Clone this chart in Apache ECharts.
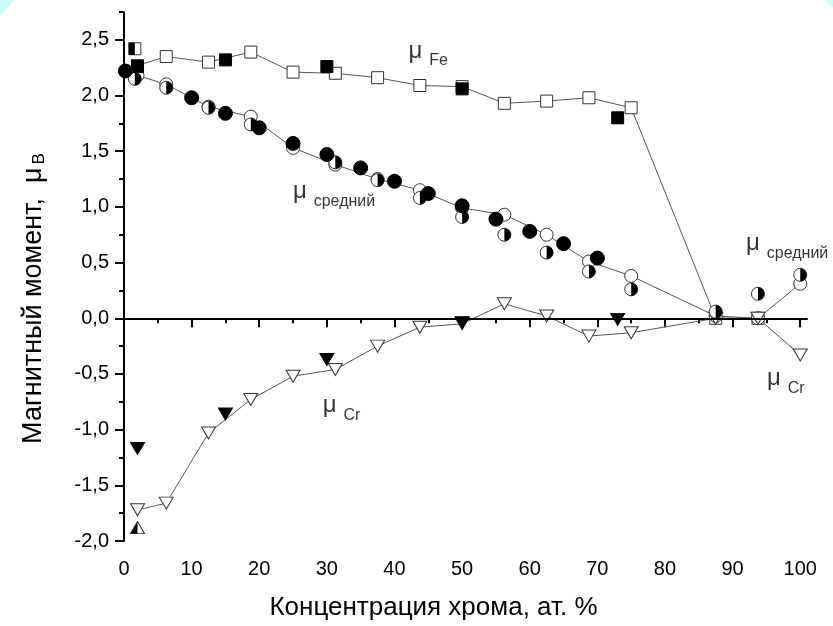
<!DOCTYPE html>
<html>
<head>
<meta charset="utf-8">
<title>Магнитный момент</title>
<script src="https://cdn.jsdelivr.net/npm/echarts@6/dist/echarts.min.js"></script>
<style>
  html, body { margin: 0; padding: 0; background: #fff; }
  #myChart { width: 833px; height: 626px; }
</style>
</head>
<body>
<div id="myChart"></div>
<script>
  // тики осей
  var xMajor = [0, 10, 20, 30, 40, 50, 60, 70, 80, 90, 100];
  var xMinor = [5, 15, 25, 35, 45, 55, 65, 75, 85, 95];
  var yMajor = [-2, -1.5, -1, -0.5, 0, 0.5, 1, 1.5, 2, 2.5];
  var yMinor = [-1.75, -1.25, -0.75, -0.25, 0.25, 0.75, 1.25, 1.75, 2.25, 2.75];

  // mu Fe - открытые квадраты с линией
  var feX = [2, 6.25, 12.5, 18.75, 25, 31.25, 37.5, 43.75, 50, 56.25, 62.5, 68.75, 75, 87.5, 93.75];
  var feY = [2.27, 2.35, 2.30, 2.39, 2.21, 2.20, 2.16, 2.09, 2.08, 1.93, 1.95, 1.98, 1.89, 0.0, 0.0];
  var feFilled = [[2, 2.26], [15, 2.32], [30, 2.26], [50, 2.06], [73, 1.80]];
  var feHalf = [[1.6, 2.42]];

  // mu средний - открытые кружки с линией
  var avgX = [2, 6.25, 12.5, 18.75, 25, 31.25, 37.5, 43.75, 50, 56.25, 62.5, 68.75, 75, 87.5, 93.75, 100];
  var avgY = [2.18, 2.10, 1.90, 1.81, 1.53, 1.38, 1.25, 1.15, 0.99, 0.93, 0.75, 0.51, 0.38, 0.02, 0.0, 0.31];
  var avgFilled = [[0.2, 2.22], [10, 1.98], [15, 1.84], [20, 1.71], [25, 1.57], [30, 1.47], [35, 1.35],
    [40, 1.23], [45, 1.12], [50, 1.01], [55, 0.89], [60, 0.78], [65, 0.67], [70, 0.54]];
  var avgHalf = [[1.6, 2.15], [6.25, 2.07], [12.5, 1.89], [18.75, 1.74], [31.25, 1.40], [37.5, 1.24],
    [43.75, 1.08], [50, 0.91], [56.25, 0.75], [62.5, 0.59], [68.75, 0.42], [75, 0.26], [87.5, 0.06],
    [93.75, 0.22], [100, 0.39]];

  // mu Cr - открытые треугольники с линией
  var crX = [2, 6.25, 12.5, 18.75, 25, 31.25, 37.5, 43.75, 50, 56.25, 62.5, 68.75, 75, 87.5, 93.75, 100];
  var crY = [-1.72, -1.66, -1.03, -0.73, -0.52, -0.46, -0.25, -0.08, -0.05, 0.13, 0.02, -0.16, -0.13, 0.0, 0.0, -0.33];
  var crFilled = [[2, -1.17], [15, -0.86], [30, -0.37], [50, -0.04], [73, -0.01]];
  var crHalf = [[2, -1.88]];

  // подписи кривых [x, y, индекс]
  var notes = [[42.0, 2.40, 'Fe'], [24.9, 1.14, 'средний'], [91.9, 0.67, 'средний'], [29.3, -0.78, 'Cr'], [95.0, -0.54, 'Cr']];

  function zip(xs, ys) {
    return xs.map(function (x, i) { return [x, ys[i]]; });
  }

  var lineColor = '#555';
  var font = 'Arial, "Liberation Sans", sans-serif';

  var openStyle = { color: '#fff', borderColor: '#333', borderWidth: 1, opacity: 1 };
  var fillStyle = { color: '#000', borderColor: '#000', borderWidth: 1, opacity: 1 };

  var myChart = echarts.init(document.getElementById('myChart'));

  var option = {
    backgroundColor: '#fff',
    animation: false,
    textStyle: { fontFamily: font },
    graphic: [
      { type: 'polygon', shape: { points: [[0, 0], [14, 0], [0, 16]] }, style: { fill: '#c9fbfd' } },
      { type: 'polygon', shape: { points: [[824, 0], [833, 0], [833, 8]] }, style: { fill: '#c9fbfd' } }
    ],
    grid: { left: 124, right: 26, top: 12, bottom: 83 },
    xAxis: [{
      type: 'value', min: 0, max: 101, interval: 10,
      name: 'Концентрация хрома, ат. %', nameLocation: 'middle', nameGap: 54,
      nameTextStyle: { fontSize: 26, color: '#000', fontFamily: font, padding: [0, 64, 0, 0] },
      axisLine: { lineStyle: { color: '#000', width: 2 } },
      axisTick: { show: true, customValues: xMajor, length: 9, lineStyle: { color: '#000', width: 2 } },
      axisLabel: { customValues: xMajor, fontSize: 20, color: '#000', margin: 18 },
      splitLine: { show: false }
    }, {
      type: 'value', min: 0, max: 101, position: 'bottom', gridIndex: 0,
      axisLine: { show: false },
      axisTick: { show: true, customValues: xMinor, length: 5, lineStyle: { color: '#000', width: 2 } },
      axisLabel: { show: false },
      splitLine: { show: false }
    }],
    yAxis: [{
      type: 'value', min: -2, max: 2.75, interval: 0.5,
      name: '{n|Магнитный момент,  μ}{s|B}', nameLocation: 'middle', nameGap: 76, nameRotate: 90,
      nameTextStyle: {
        padding: [0, 44, 0, 0],
        rich: {
          n: { fontSize: 27, color: '#000', fontFamily: font },
          s: { fontSize: 17, color: '#000', fontFamily: font, padding: [12, 0, 0, 3], verticalAlign: 'bottom' }
        }
      },
      axisLine: { lineStyle: { color: '#000', width: 2 } },
      axisTick: { show: true, customValues: yMajor, length: 9, lineStyle: { color: '#000', width: 2 } },
      axisLabel: {
        customValues: yMajor, fontSize: 20, color: '#000', margin: 15,
        formatter: function (v) { return v.toFixed(1).replace('.', ','); }
      },
      splitLine: { show: false }
    }, {
      type: 'value', min: -2, max: 2.75, position: 'left',
      axisLine: { show: false },
      axisTick: { show: true, customValues: yMinor, length: 5, lineStyle: { color: '#000', width: 2 } },
      axisLabel: { show: false },
      splitLine: { show: false }
    }],
    series: [
      {
        name: 'zero', type: 'line', data: [], silent: true,
        markLine: {
          silent: true, symbol: 'none', label: { show: false },
          lineStyle: { color: '#000', width: 2, type: 'solid' },
          data: [{ yAxis: 0 }]
        }
      },
      {
        name: 'muFe', type: 'line', data: zip(feX, feY), symbol: 'rect', symbolSize: 12,
        lineStyle: { color: lineColor, width: 1 }, itemStyle: openStyle, z: 3
      },
      {
        name: 'muAvg', type: 'line', data: zip(avgX, avgY), symbol: 'circle', symbolSize: 13,
        lineStyle: { color: lineColor, width: 1 }, itemStyle: openStyle, z: 3
      },
      {
        name: 'muCr', type: 'line', data: zip(crX, crY), symbol: 'triangle', symbolRotate: 180, symbolSize: [14, 12],
        lineStyle: { color: lineColor, width: 1 }, itemStyle: openStyle, z: 3
      },
      // половинчатые: сначала открытый знак, потом чёрная половина
      { type: 'scatter', data: feHalf, symbol: 'rect', symbolSize: 12, itemStyle: openStyle, z: 4 },
      {
        type: 'scatter', data: feHalf, symbol: 'path://M0,0 L5,0 L5,10 L0,10 Z', symbolSize: [6, 12],
        symbolOffset: [-3, 0], itemStyle: { color: '#000', opacity: 1 }, z: 5
      },
      { type: 'scatter', data: avgHalf, symbol: 'circle', symbolSize: 13, itemStyle: openStyle, z: 4 },
      {
        type: 'scatter', data: avgHalf, symbol: 'path://M0,0 A10,10 0 0 1 0,20 Z', symbolSize: [6.5, 13],
        symbolOffset: [3.25, 0], itemStyle: { color: '#000', opacity: 1 }, z: 5
      },
      { type: 'scatter', data: crHalf, symbol: 'triangle', symbolSize: [14, 12], itemStyle: openStyle, z: 4 },
      {
        type: 'scatter', data: crHalf, symbol: 'path://M5,0 L5,10 L0,10 Z', symbolSize: [7, 12],
        symbolOffset: [-3.5, 0], itemStyle: { color: '#000', opacity: 1 }, z: 5
      },
      // заполненные знаки
      { type: 'scatter', data: feFilled, symbol: 'rect', symbolSize: 12, itemStyle: fillStyle, z: 6 },
      { type: 'scatter', data: avgFilled, symbol: 'circle', symbolSize: 14, itemStyle: fillStyle, z: 6 },
      {
        type: 'scatter', data: crFilled, symbol: 'triangle', symbolRotate: 180, symbolSize: [14, 12],
        itemStyle: fillStyle, z: 6
      },
      // подписи
      {
        type: 'scatter', data: notes, symbol: 'circle', symbolSize: 1, silent: true, z: 7,
        itemStyle: { color: 'rgba(0,0,0,0)' },
        label: {
          show: true, position: 'right', distance: 0,
          formatter: function (p) { return '{m|μ}{s|' + p.data[2] + '}'; },
          rich: {
            m: { fontSize: 24, color: '#000', fontFamily: font },
            s: { fontSize: 16, color: '#000', fontFamily: font, padding: [20, 0, 0, 7], verticalAlign: 'bottom' }
          }
        }
      }
    ]
  };

  myChart.setOption(option);
</script>
</body>
</html>
